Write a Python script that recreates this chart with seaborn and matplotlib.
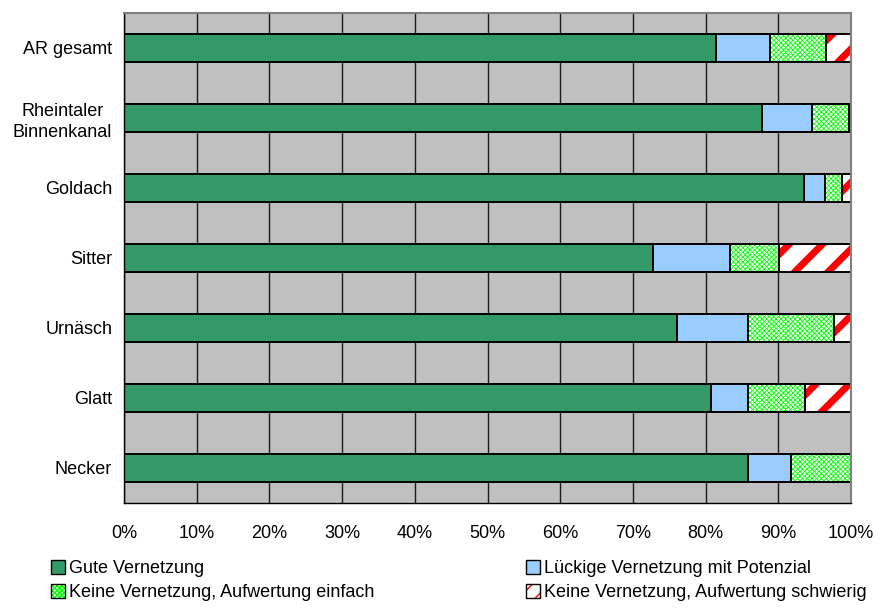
import pandas as pd
import numpy as np
import matplotlib
matplotlib.use("Agg")
import matplotlib.pyplot as plt
import seaborn as sns
from matplotlib.patches import Patch
from matplotlib.ticker import MultipleLocator, FuncFormatter

sns.set_style("white")
plt.rcParams['font.family'] = ['Liberation Sans', 'DejaVu Sans']
plt.rcParams['font.size'] = 13
plt.rcParams['text.color'] = 'black'
plt.rcParams['xtick.color'] = 'black'
plt.rcParams['ytick.color'] = 'black'

# Anteile in % je Gewaesser (von links nach rechts gestapelt)
categories = ["AR gesamt", "Rheintaler\nBinnenkanal", "Goldach", "Sitter",
              "Urnäsch", "Glatt", "Necker"]
gute = [81.4, 87.7, 93.6, 72.8, 76.1, 80.7, 85.9]
lueckig = [7.5, 6.9, 2.8, 10.6, 9.7, 5.1, 5.9]
einfach = [7.6, 5.1, 2.4, 6.7, 11.9, 7.9, 8.2]
schwierig = [3.5, 0.3, 1.2, 9.9, 2.3, 6.3, 0.0]

labels = ["Gute Vernetzung", "Lückige Vernetzung mit Potenzial",
          "Keine Vernetzung, Aufwertung einfach", "Keine Vernetzung, Aufwertung schwierig"]

df = pd.DataFrame({"name": categories, "gute": gute, "lueckig": lueckig,
                   "einfach": einfach, "schwierig": schwierig})
df["c1"] = df["gute"]
df["c2"] = df["c1"] + df["lueckig"]
df["c3"] = df["c2"] + df["einfach"]
df["c4"] = df["c3"] + df["schwierig"]

fig = plt.figure(figsize=(8.81, 6.08), dpi=100)
ax = fig.add_axes([124 / 881, 1 - 503 / 608, (851 - 124) / 881, (503 - 13) / 608])
ax.set_facecolor('#C0C0C0')

bw = 0.41
# (cumulative column, face, hatch, hatch colour, hatch linewidth)
layers = [
    ("c4", "white", "/", "#FF0000", 5.0),
    ("c3", "white", "xxxxxxx", "#00FF00", 0.6),
    ("c2", "#99CCFF", None, "#99CCFF", 1.0),
    ("c1", "#339966", None, "#339966", 1.0),
]
for col, face, hatch, hcol, hlw in layers:
    with plt.rc_context({'hatch.linewidth': hlw}):
        sns.barplot(data=df, y="name", x=col, orient="h", color=face, width=bw,
                    hatch=hatch, edgecolor=hcol, linewidth=0, saturation=1, ax=ax)

for col in ["c4", "c3", "c2", "c1"]:
    sns.barplot(data=df, y="name", x=col, orient="h", fill=False, color="black",
                width=bw, linewidth=1.4, saturation=1, ax=ax)

ax.set_xlim(0, 100)
ax.set_ylim(6.5, -0.5)
ax.xaxis.set_major_locator(MultipleLocator(10))
ax.xaxis.set_major_formatter(FuncFormatter(lambda v, p: f"{int(round(v))}%"))
ax.grid(axis='x', color='#1a1a1a', linewidth=1.0)
ax.grid(axis='y', visible=False)
ax.set_axisbelow(True)
ax.set_xlabel("")
ax.set_ylabel("")

ax.set_yticks(range(len(categories)))
ax.set_yticklabels(categories, ha='right', multialignment='center', linespacing=1.3)
ax.tick_params(axis='y', length=0, pad=8.5)
ax.set_yticks(np.arange(-0.5, len(categories), 1.0), minor=True)
ax.tick_params(axis='y', which='minor', length=5, width=1, color='black', direction='out')
ax.tick_params(axis='x', length=5, width=1, color='black', direction='out', pad=11)

for s in ['top', 'right']:
    ax.spines[s].set_color('#808080')
    ax.spines[s].set_linewidth(1.5)
for s in ['left', 'bottom']:
    ax.spines[s].set_color('black')
    ax.spines[s].set_linewidth(1.0)

# Legende: Fuellung + schwarzer Rahmen ueberlagert
def handle(face, hatch, hcol, hlw):
    with plt.rc_context({'hatch.linewidth': hlw}):
        fill = Patch(facecolor=face, hatch=hatch, edgecolor=hcol, linewidth=0)
    frame = Patch(facecolor='none', edgecolor='black', linewidth=1.0)
    return (fill, frame)

h_gute = handle("#339966", None, "#339966", 1.0)
h_lueck = handle("#99CCFF", None, "#99CCFF", 1.0)
h_einf = handle("white", "xxxxxxx", "#00FF00", 0.6)
h_schw = handle("white", "//", "#FF0000", 3.0)

fig.legend([h_gute, h_einf, h_lueck, h_schw],
           [labels[0], labels[2], labels[1], labels[3]],
           ncol=2, loc='upper left', bbox_to_anchor=(51 / 881, 1 - 560 / 608),
           frameon=False, handlelength=0.78, handleheight=0.78, handletextpad=0.22,
           columnspacing=8.4, labelspacing=0.4, borderaxespad=0, borderpad=0,
           fontsize=13)

fig.savefig("out.png", dpi=100)
